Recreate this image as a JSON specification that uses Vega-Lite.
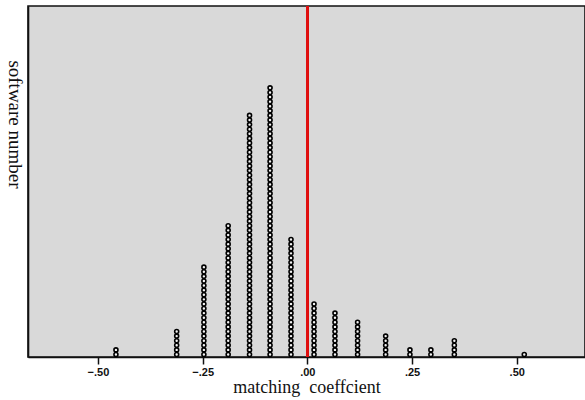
{
  "$schema": "https://vega.github.io/schema/vega-lite/v6.json",
  "autosize": {"type": "none"},
  "padding": {"left": 28, "top": 6, "right": 0, "bottom": 43},
  "width": 557,
  "height": 351,
  "background": "white",
  "config": {
    "view": {"fill": "#d9d9d9", "stroke": "#111111", "strokeWidth": 1.6},
    "axis": {"grid": false}
  },
  "data": {"values": [
    {"x":-0.457},{"x":-0.457},
    {"x":-0.312},{"x":-0.312},{"x":-0.312},{"x":-0.312},{"x":-0.312},{"x":-0.312},
    {"x":-0.247},{"x":-0.247},{"x":-0.247},{"x":-0.247},{"x":-0.247},{"x":-0.247},{"x":-0.247},{"x":-0.247},{"x":-0.247},{"x":-0.247},
    {"x":-0.247},{"x":-0.247},{"x":-0.247},{"x":-0.247},{"x":-0.247},{"x":-0.247},{"x":-0.247},{"x":-0.247},{"x":-0.247},{"x":-0.247},
    {"x":-0.189},{"x":-0.189},{"x":-0.189},{"x":-0.189},{"x":-0.189},{"x":-0.189},{"x":-0.189},{"x":-0.189},{"x":-0.189},{"x":-0.189},
    {"x":-0.189},{"x":-0.189},{"x":-0.189},{"x":-0.189},{"x":-0.189},{"x":-0.189},{"x":-0.189},{"x":-0.189},{"x":-0.189},{"x":-0.189},
    {"x":-0.189},{"x":-0.189},{"x":-0.189},{"x":-0.189},{"x":-0.189},{"x":-0.189},{"x":-0.189},{"x":-0.189},{"x":-0.189},
    {"x":-0.138},{"x":-0.138},{"x":-0.138},{"x":-0.138},{"x":-0.138},{"x":-0.138},{"x":-0.138},{"x":-0.138},{"x":-0.138},{"x":-0.138},
    {"x":-0.138},{"x":-0.138},{"x":-0.138},{"x":-0.138},{"x":-0.138},{"x":-0.138},{"x":-0.138},{"x":-0.138},{"x":-0.138},{"x":-0.138},
    {"x":-0.138},{"x":-0.138},{"x":-0.138},{"x":-0.138},{"x":-0.138},{"x":-0.138},{"x":-0.138},{"x":-0.138},{"x":-0.138},{"x":-0.138},
    {"x":-0.138},{"x":-0.138},{"x":-0.138},{"x":-0.138},{"x":-0.138},{"x":-0.138},{"x":-0.138},{"x":-0.138},{"x":-0.138},{"x":-0.138},
    {"x":-0.138},{"x":-0.138},{"x":-0.138},{"x":-0.138},{"x":-0.138},{"x":-0.138},{"x":-0.138},{"x":-0.138},{"x":-0.138},{"x":-0.138},
    {"x":-0.138},{"x":-0.138},{"x":-0.138},
    {"x":-0.089},{"x":-0.089},{"x":-0.089},{"x":-0.089},{"x":-0.089},{"x":-0.089},{"x":-0.089},{"x":-0.089},{"x":-0.089},{"x":-0.089},
    {"x":-0.089},{"x":-0.089},{"x":-0.089},{"x":-0.089},{"x":-0.089},{"x":-0.089},{"x":-0.089},{"x":-0.089},{"x":-0.089},{"x":-0.089},
    {"x":-0.089},{"x":-0.089},{"x":-0.089},{"x":-0.089},{"x":-0.089},{"x":-0.089},{"x":-0.089},{"x":-0.089},{"x":-0.089},{"x":-0.089},
    {"x":-0.089},{"x":-0.089},{"x":-0.089},{"x":-0.089},{"x":-0.089},{"x":-0.089},{"x":-0.089},{"x":-0.089},{"x":-0.089},{"x":-0.089},
    {"x":-0.089},{"x":-0.089},{"x":-0.089},{"x":-0.089},{"x":-0.089},{"x":-0.089},{"x":-0.089},{"x":-0.089},{"x":-0.089},{"x":-0.089},
    {"x":-0.089},{"x":-0.089},{"x":-0.089},{"x":-0.089},{"x":-0.089},{"x":-0.089},{"x":-0.089},{"x":-0.089},{"x":-0.089},
    {"x":-0.039},{"x":-0.039},{"x":-0.039},{"x":-0.039},{"x":-0.039},{"x":-0.039},{"x":-0.039},{"x":-0.039},{"x":-0.039},{"x":-0.039},
    {"x":-0.039},{"x":-0.039},{"x":-0.039},{"x":-0.039},{"x":-0.039},{"x":-0.039},{"x":-0.039},{"x":-0.039},{"x":-0.039},{"x":-0.039},
    {"x":-0.039},{"x":-0.039},{"x":-0.039},{"x":-0.039},{"x":-0.039},{"x":-0.039},
    {"x":0.016},{"x":0.016},{"x":0.016},{"x":0.016},{"x":0.016},{"x":0.016},{"x":0.016},{"x":0.016},{"x":0.016},{"x":0.016},{"x":0.016},{"x":0.016},
    {"x":0.066},{"x":0.066},{"x":0.066},{"x":0.066},{"x":0.066},{"x":0.066},{"x":0.066},{"x":0.066},{"x":0.066},{"x":0.066},
    {"x":0.120},{"x":0.120},{"x":0.120},{"x":0.120},{"x":0.120},{"x":0.120},{"x":0.120},{"x":0.120},
    {"x":0.187},{"x":0.187},{"x":0.187},{"x":0.187},{"x":0.187},
    {"x":0.245},{"x":0.245},
    {"x":0.295},{"x":0.295},
    {"x":0.351},{"x":0.351},{"x":0.351},{"x":0.351},
    {"x":0.518}
  ]},
  "transform": [
    {"window": [{"op": "row_number", "as": "k"}], "groupby": ["x"]}
  ],
  "layer": [
    {
      "mark": {"type": "circle", "size": 16, "fill": "#f4f4f4", "opacity": 1, "stroke": "#000000", "strokeWidth": 1.6},
      "encoding": {
        "x": {
          "field": "x", "type": "quantitative",
          "scale": {"domain": [-0.667, 0.663], "nice": false, "zero": false},
          "axis": {
            "values": [-0.5, -0.25, 0, 0.25, 0.5],
            "labelExpr": "replace(format(datum.value, '.2f'), '0.', '.')",
            "labelFont": "Liberation Sans Narrow, Liberation Sans, Arial",
            "labelFontWeight": "bold",
            "labelFontSize": 11,
            "labelColor": "#111111",
            "labelPadding": 2,
            "tickColor": "#111111",
            "tickSize": 7,
            "tickWidth": 1.5,
            "domainColor": "#111111",
            "domainWidth": 1.6,
            "title": "matching\u00a0 coeffcient",
            "titleFont": "Liberation Serif",
            "titleFontSize": 18,
            "titleFontWeight": "normal",
            "titleColor": "#111111",
            "titlePadding": 1
          }
        },
        "y": {
          "field": "k", "type": "quantitative",
          "scale": {"domain": [0.457, 76.8], "nice": false, "zero": false},
          "axis": {
            "ticks": false,
            "labels": false,
            "domainColor": "#111111",
            "domainWidth": 1.6,
            "title": "software number",
            "titleFont": "Liberation Serif",
            "titleFontSize": 19,
            "titleFontWeight": "normal",
            "titleColor": "#111111",
            "titleAngle": 90,
            "titleX": -14,
            "titleY": 118,
            "titleAlign": "center",
            "titleBaseline": "middle"
          }
        }
      }
    },
    {
      "mark": {"type": "rule", "color": "#e01010", "strokeWidth": 1.8},
      "encoding": {"x": {"datum": 0}}
    }
  ]
}
